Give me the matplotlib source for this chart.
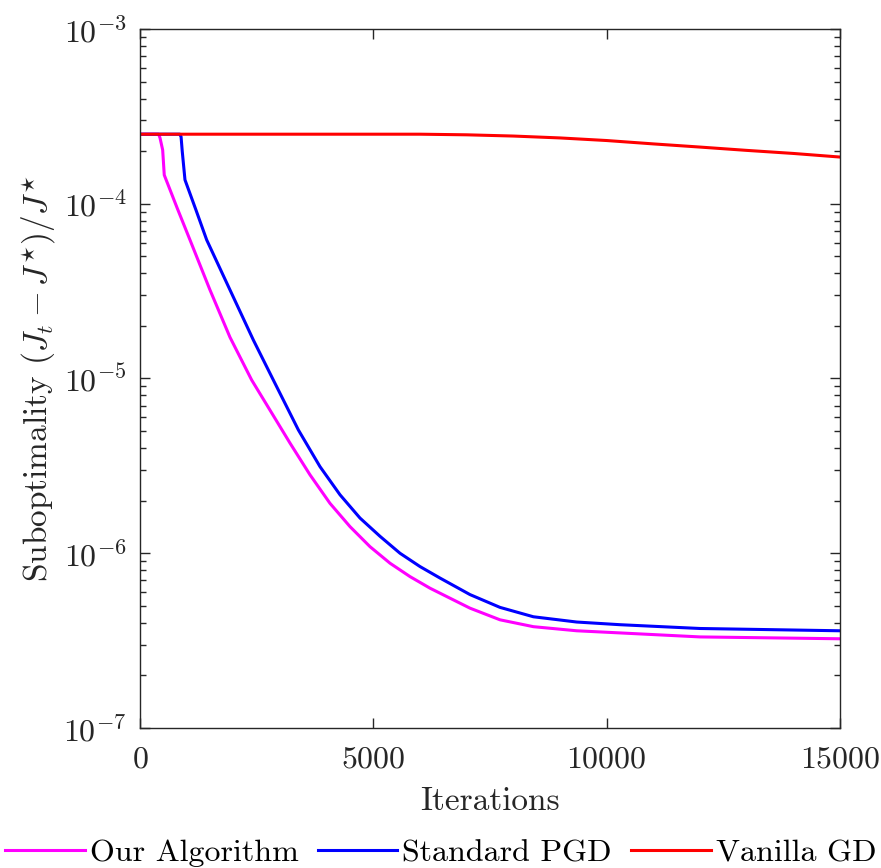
import numpy as np
import matplotlib
matplotlib.use("Agg")
import matplotlib.pyplot as plt
from matplotlib.ticker import LogLocator, NullFormatter

plt.rcParams["font.family"] = "serif"
plt.rcParams["font.serif"] = ["cmr10"]
plt.rcParams["mathtext.fontset"] = "cm"
plt.rcParams["axes.formatter.use_mathtext"] = True

# values (iteration, suboptimality)
ours_x = [0, 400, 429, 486, 520, 800, 1071, 1500, 1929, 2393, 2929, 3214, 3643,
          4071, 4500, 4929, 5357, 5786, 6214, 6643, 7071, 7714, 8429, 9357,
          10286, 12000, 15000]
ours_y = [2.5e-4, 2.5e-4, 2.38e-4, 2.03e-4, 1.46e-4, 9.4e-5, 6.21e-5, 3.21e-5,
          1.72e-5, 9.8e-6, 5.7e-6, 4.27e-6, 2.81e-6, 1.93e-6, 1.42e-6, 1.09e-6,
          8.77e-7, 7.35e-7, 6.31e-7, 5.53e-7, 4.85e-7, 4.16e-7, 3.8e-7, 3.6e-7,
          3.5e-7, 3.32e-7, 3.24e-7]

pgd_x = [0, 850, 880, 905, 964, 1200, 1429, 1929, 2429, 2857, 3393, 3857, 4286,
         4714, 5143, 5571, 6000, 6429, 7071, 7714, 8429, 9357, 10286, 12000, 15000]
pgd_y = [2.5e-4, 2.5e-4, 2.42e-4, 2.0e-4, 1.37e-4, 9.2e-5, 6.21e-5, 3.21e-5,
         1.66e-5, 9.8e-6, 5.08e-6, 3.13e-6, 2.16e-6, 1.59e-6, 1.25e-6, 1.0e-6,
         8.39e-7, 7.21e-7, 5.8e-7, 4.9e-7, 4.33e-7, 4.04e-7, 3.9e-7, 3.71e-7,
         3.60e-7]

gd_x = [0, 3000, 6000, 7000, 8000, 9000, 10000, 11000, 12000, 13000, 14000, 15000]
gd_y = [2.5e-4, 2.5e-4, 2.5e-4, 2.48e-4, 2.44e-4, 2.38e-4, 2.3e-4, 2.2e-4,
        2.11e-4, 2.02e-4, 1.94e-4, 1.85e-4]

fig = plt.figure(figsize=(8.81, 8.68), dpi=100)
ax = fig.add_axes([0.1589, 0.1613, 0.7946, 0.8053])

ax.plot(ours_x, ours_y, color="#ff00ff", lw=2.2, label="Our Algorithm")
ax.plot(pgd_x, pgd_y, color="#0000ff", lw=2.2, label="Standard PGD")
ax.plot(gd_x, gd_y, color="#ff0000", lw=2.2, label="Vanilla GD")

ax.set_yscale("log")
ax.set_xlim(0, 15000)
ax.set_ylim(1e-7, 1e-3)
ax.set_xticks([0, 5000, 10000, 15000])
ax.yaxis.set_major_locator(LogLocator(base=10, numticks=10))
ax.yaxis.set_minor_locator(LogLocator(base=10, subs=np.arange(2, 10), numticks=10))
ax.yaxis.set_minor_formatter(NullFormatter())

for s in ax.spines.values():
    s.set_color("#262626")
    s.set_linewidth(1.0)
ax.tick_params(which="both", direction="in", top=True, right=True,
               colors="#262626", labelsize=23, labelcolor="#262626")
ax.tick_params(which="major", length=7, width=1.0)
ax.tick_params(which="minor", length=4.5, width=1.0)
ax.tick_params(axis="x", which="major", pad=13)
ax.tick_params(axis="y", which="major", pad=9.5)

ax.set_xlabel("Iterations", fontsize=24, color="#262626", labelpad=10)
ax.set_ylabel(r"Suboptimality $(J_t - J^{\star})/J^{\star}$", fontsize=24,
              color="#262626", labelpad=4)

fig.legend(loc="lower center", bbox_to_anchor=(0.5, -0.032), ncol=3,
           frameon=False, fontsize=23, handlelength=2.5, columnspacing=0.6,
           handletextpad=0.15)

fig.savefig("out.png", dpi=100)
